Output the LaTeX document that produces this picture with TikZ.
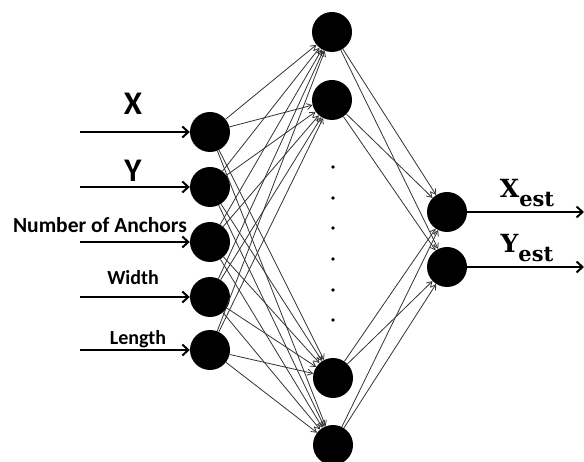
\documentclass[tikz,border=0pt]{standalone}
\usepackage{fontspec}
\setmainfont{Carlito}
\newfontfamily\estfont{DejaVu Serif}
\usetikzlibrary{arrows.meta}

\begin{document}
\begin{tikzpicture}[x=1pt,y=-1pt,
  neuron/.style={circle,fill=black,inner sep=0pt,minimum size=40pt},
  inlabel/.style={anchor=base,inner sep=0pt,font=\bfseries\fontsize{20}{22}\selectfont},
  biglabel/.style={inlabel,font=\bfseries\fontsize{33}{35}\selectfont},
  outlabel/.style={anchor=base,inner sep=0pt,font=\estfont\bfseries\fontsize{25}{27}\selectfont},
  feed/.style={-{Straight Barb[length=6pt,width=11pt,line width=2pt]},line width=2.6pt},
  wire/.style={-{Straight Barb[length=5pt,width=6pt]},line width=0.8pt,black!80},
  vdot/.style={circle,fill=black,inner sep=0pt,minimum size=3.8pt}
]
\useasboundingbox (0,0) rectangle (584,462);

% input layer
\node[neuron] (in1) at (210,132) {};
\node[neuron] (in2) at (210,187) {};
\node[neuron] (in3) at (210,242) {};
\node[neuron] (in4) at (210,297) {};
\node[neuron] (in5) at (210,350) {};

% hidden layer
\node[neuron] (h1) at (332,32) {};
\node[neuron] (h2) at (332,100) {};
\node[neuron] (h3) at (333,378) {};
\node[neuron] (h4) at (333,445) {};
\foreach \y [count=\k] in {167,198,228,259,290,320}
  \node[vdot] (dot\k) at (333,\y) {};

% output layer
\node[neuron] (out1) at (447,212) {};
\node[neuron] (out2) at (447,267) {};

% inputs with their labels
\coordinate (src1) at (80,132);
\coordinate (src2) at (80,187);
\coordinate (src3) at (80,242);
\coordinate (src4) at (80,297);
\coordinate (src5) at (80,350);
\node[biglabel] (lx) at (133,115) {X};
\node[biglabel] (ly) at (133,182) {Y};
\node[inlabel,font=\bfseries\fontsize{21.5}{23}\selectfont] (lanch) at (100,233) {Number of Anchors};
\node[inlabel] (lwidth) at (133,285) {Width};
\node[inlabel] (llength) at (138,345) {Length};
\foreach \i in {1,...,5}
  \draw[feed] (src\i) -- (in\i);

% fully connected weights
\foreach \i in {1,...,5}
  \foreach \j in {1,...,4}
    \draw[wire] (in\i) -- (h\j);
\foreach \j in {1,...,4}
  \foreach \k in {1,2}
    \draw[wire] (h\j) -- (out\k);

% outputs
\coordinate (dst1) at (584,212);
\coordinate (dst2) at (584,267);
\draw[feed] (out1) -- (dst1);
\draw[feed] (out2) -- (dst2);
\node[outlabel] (lxest) at (527,198) {X\raisebox{-9pt}{\fontsize{21}{23}\selectfont est}};
\node[outlabel] (lyest) at (527,253) {Y\raisebox{-9pt}{\fontsize{21}{23}\selectfont est}};
\end{tikzpicture}
\end{document}
